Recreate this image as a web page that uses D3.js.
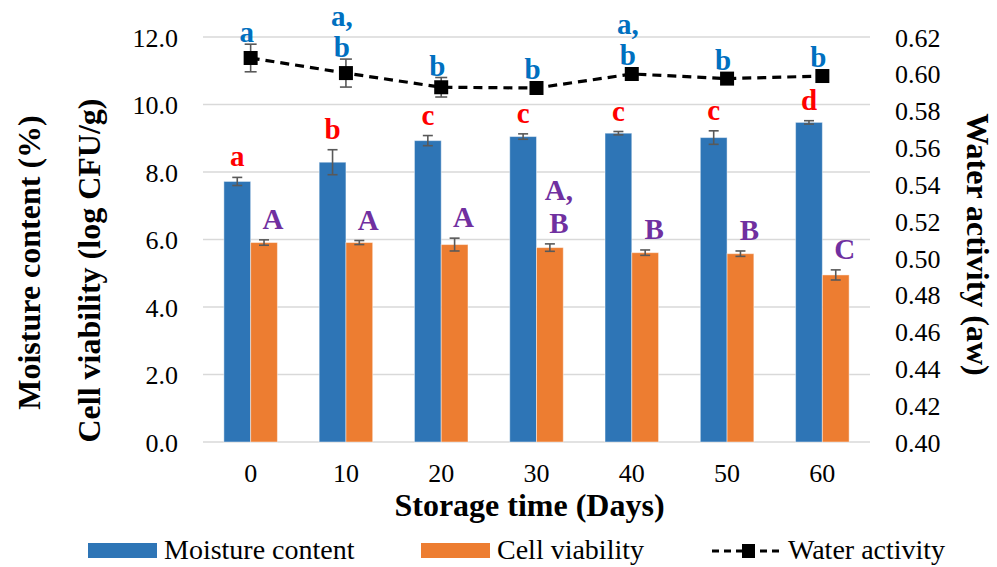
<!DOCTYPE html>
<html>
<head>
<meta charset="utf-8">
<script src="https://cdn.jsdelivr.net/npm/d3@7"></script>
<style>
	body { margin: 0; background: #fff; }
	svg { display: block; font-family: "Liberation Serif", "Times New Roman", serif; }
</style>
</head>
<body>
<div id="chart"></div>
<script>
// storage days on the x axis
const days = ["0", "10", "20", "30", "40", "50", "60"];

// bars (left axis)
const moisture = [7.72, 8.29, 8.93, 9.05, 9.15, 9.02, 9.47];
const moistureErr = [0.12, 0.37, 0.15, 0.08, 0.05, 0.20, 0.05];
const viability = [5.91, 5.91, 5.85, 5.76, 5.61, 5.58, 4.95];
const viabilityErr = [0.08, 0.06, 0.19, 0.11, 0.08, 0.08, 0.15];

// line (right axis)
const waterAct = [0.6086, 0.6004, 0.5927, 0.5923, 0.5999, 0.5974, 0.5988];
const waterActErr = [0.0075, 0.0076, 0.0053, 0.002, 0.002, 0.002, 0.002];

// significance letters
const moistureLetters = [["a"], ["b"], ["c"], ["c"], ["c"], ["c"], ["d"]];
const viabilityLetters = [["A"], ["A"], ["A"], ["A,", "B"], ["B"], ["B"], ["C"]];
const waterLetters = [["a"], ["a,", "b"], ["b"], ["b"], ["a,", "b"], ["b"], ["b"]];

const leftTicks = [0, 2, 4, 6, 8, 10, 12];
const rightTicks = [0.40, 0.42, 0.44, 0.46, 0.48, 0.50, 0.52, 0.54, 0.56, 0.58, 0.60, 0.62];

const blue = "#2E75B6";
const orange = "#ED7D31";

let W = 997, H = 567;
let m = {left: 203, right: 127, top: 37, bottom: 125};

let svg = d3.select("#chart").append("svg")
	.attr("width", W)
	.attr("height", H);

let x = d3.scaleBand()
	.domain(days)
	.range([m.left, W - m.right])
	.padding(0);

let xs = d3.scaleBand()
	.domain(["moisture", "viability"])
	.range([0, x.bandwidth()])
	.paddingInner(0)
	.paddingOuter(0.78);

let yL = d3.scaleLinear().domain([0, 12]).range([H - m.bottom, m.top]);
let yR = d3.scaleLinear().domain([0.40, 0.62]).range([H - m.bottom, m.top]);

// gridlines
svg.append("g")
	.selectAll("line")
	.data(leftTicks)
	.enter().append("line")
	.attr("x1", m.left)
	.attr("x2", W - m.right)
	.attr("y1", d => yL(d))
	.attr("y2", d => yL(d))
	.attr("stroke", "#d9d9d9")
	.attr("stroke-width", 1.5);

// left axis
let axL = svg.append("g")
	.attr("transform", `translate(${m.left},0)`)
	.call(d3.axisLeft(yL).tickValues(leftTicks).tickFormat(d3.format(".1f")).tickSize(0).tickPadding(25));
axL.select(".domain").remove();
axL.selectAll("text").attr("font-size", 26).attr("fill", "#000").attr("font-family", "Liberation Serif").attr("dy", "0.35em");

// right axis
let axR = svg.append("g")
	.attr("transform", `translate(${W - m.right},0)`)
	.call(d3.axisRight(yR).tickValues(rightTicks).tickFormat(d3.format(".2f")).tickSize(0).tickPadding(25));
axR.select(".domain").remove();
axR.selectAll("text").attr("font-size", 26).attr("fill", "#000").attr("font-family", "Liberation Serif").attr("dy", "0.35em");

// bottom axis
let axB = svg.append("g")
	.attr("transform", `translate(0,${H - m.bottom})`)
	.call(d3.axisBottom(x).tickSize(0).tickPadding(22));
axB.select(".domain").remove();
axB.selectAll("text").attr("font-size", 26).attr("fill", "#000").attr("font-family", "Liberation Serif");

// bars
let barSeries = [
	{key: "moisture", vals: moisture, err: moistureErr, color: blue},
	{key: "viability", vals: viability, err: viabilityErr, color: orange}
];

barSeries.forEach(s => {
	let g = svg.append("g");
	g.selectAll("rect")
		.data(s.vals)
		.enter().append("rect")
		.attr("x", (d, i) => x(days[i]) + xs(s.key))
		.attr("width", xs.bandwidth())
		.attr("y", d => yL(d))
		.attr("height", d => yL(0) - yL(d))
		.attr("fill", s.color)
		.attr("stroke", "#fff")
		.attr("stroke-opacity", 0.45)
		.attr("stroke-width", 1);
});

function errorBars(cx, vals, errs, y, cap) {
	let g = svg.append("g")
		.attr("stroke", "#595959")
		.attr("stroke-width", 1.6)
		.attr("fill", "none");
	vals.forEach((v, i) => {
		let px = cx(i);
		let top = y(v + errs[i]), bot = y(v - errs[i]);
		g.append("line").attr("x1", px).attr("x2", px).attr("y1", top).attr("y2", bot);
		g.append("line").attr("x1", px - cap).attr("x2", px + cap).attr("y1", top).attr("y2", top);
		g.append("line").attr("x1", px - cap).attr("x2", px + cap).attr("y1", bot).attr("y2", bot);
	});
}

let barCx = key => i => x(days[i]) + xs(key) + xs.bandwidth() / 2;
let ptCx = i => x(days[i]) + x.bandwidth() / 2;

errorBars(barCx("moisture"), moisture, moistureErr, yL, 5);
errorBars(barCx("viability"), viability, viabilityErr, yL, 5);

// water activity line
let line = d3.line()
	.x((d, i) => ptCx(i))
	.y(d => yR(d));

svg.append("path")
	.datum(waterAct)
	.attr("d", line)
	.attr("fill", "none")
	.attr("stroke", "#000")
	.attr("stroke-width", 3.2)
	.attr("stroke-dasharray", "9,6");

errorBars(ptCx, waterAct, waterActErr, yR, 6);

let mk = 14;
svg.append("g")
	.selectAll("rect")
	.data(waterAct)
	.enter().append("rect")
	.attr("x", (d, i) => ptCx(i) - mk / 2)
	.attr("y", d => yR(d) - mk / 2)
	.attr("width", mk)
	.attr("height", mk)
	.attr("fill", "#000");

// letters
function letters(data, xf, yf, color, lineH) {
	let g = svg.append("g")
		.attr("font-weight", "bold")
		.attr("font-size", 29)
		.attr("fill", color)
		.attr("text-anchor", "middle");
	data.forEach((lines, i) => {
		let base = yf(i);
		lines.forEach((t, j) => {
			g.append("text")
				.attr("x", xf(i))
				.attr("y", base - (lines.length - 1 - j) * lineH)
				.text(t);
		});
	});
}

letters(moistureLetters, barCx("moisture"),
	i => yL(moisture[i] + moistureErr[i]) - 11, "#FF0000", 33);
letters(viabilityLetters, i => barCx("viability")(i) + 9,
	i => yL(viability[i] + viabilityErr[i]) - 11, "#7030A0", 33);
letters(waterLetters, i => ptCx(i) - 4,
	i => Math.min(yR(waterAct[i] + waterActErr[i]), yR(waterAct[i]) - mk / 2) - 2, "#0070C0", 31);

// axis titles
svg.append("text")
	.attr("transform", `translate(40,${(m.top + H - m.bottom) / 2 + 23}) rotate(-90)`)
	.attr("text-anchor", "middle")
	.attr("font-weight", "bold")
	.attr("font-size", 32)
	.text("Moisture content (%)");

svg.append("text")
	.attr("transform", `translate(100,${(m.top + H - m.bottom) / 2 + 31}) rotate(-90)`)
	.attr("text-anchor", "middle")
	.attr("font-weight", "bold")
	.attr("font-size", 32)
	.text("Cell viability (log CFU/g)");

svg.append("text")
	.attr("transform", `translate(967,${(m.top + H - m.bottom) / 2 + 5}) rotate(90)`)
	.attr("text-anchor", "middle")
	.attr("font-weight", "bold")
	.attr("font-size", 32)
	.text("Water activity (aw)");

svg.append("text")
	.attr("x", (m.left + W - m.right) / 2 - 7)
	.attr("y", 516)
	.attr("text-anchor", "middle")
	.attr("font-weight", "bold")
	.attr("font-size", 32)
	.text("Storage time (Days)");

// legend
let leg = svg.append("g").attr("font-size", 28);
leg.append("rect").attr("x", 88).attr("y", 543).attr("width", 69).attr("height", 15).attr("fill", blue);
leg.append("text").attr("x", 164).attr("y", 559).text("Moisture content");
leg.append("rect").attr("x", 421).attr("y", 543).attr("width", 69).attr("height", 15).attr("fill", orange);
leg.append("text").attr("x", 497).attr("y", 559).text("Cell viability");
leg.append("line").attr("x1", 712).attr("x2", 784).attr("y1", 551).attr("y2", 551)
	.attr("stroke", "#000").attr("stroke-width", 3.2).attr("stroke-dasharray", "7,5");
leg.append("rect").attr("x", 742).attr("y", 544).attr("width", 13).attr("height", 14).attr("fill", "#000");
leg.append("text").attr("x", 788).attr("y", 559).text("Water activity");
</script>
</body>
</html>
